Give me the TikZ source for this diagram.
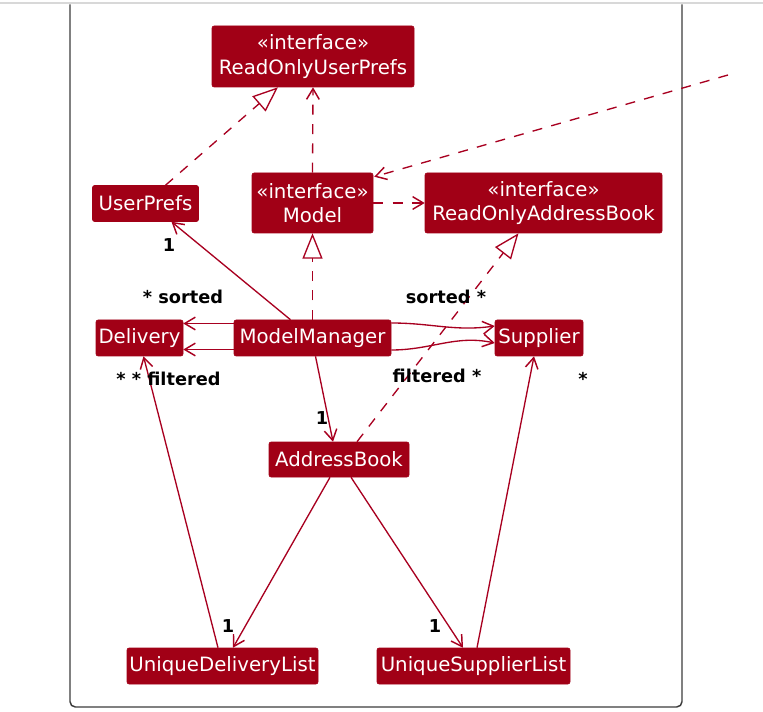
\documentclass[tikz,border=0pt]{standalone}
\usepackage{fontspec}
\setmainfont{DejaVu Sans}
\usetikzlibrary{arrows.meta,calc}
\definecolor{umlred}{RGB}{161,0,22}
\definecolor{linered}{RGB}{168,0,32}
\definecolor{framegray}{RGB}{60,60,60}
\definecolor{topgray}{RGB}{216,216,216}
\tikzset{
  cls/.style={fill=umlred, draw=umlred, text=white, rounded corners=1.5pt, inner sep=0pt,
    align=center, font=\fontsize{14.8}{18.5}\selectfont},
  wh/.style 2 args={minimum width=#1*0.75pt, minimum height=#2*0.75pt},
  assoc/.style={draw=linered, line width=1pt, -{Straight Barb[length=8pt,width=9.5pt,line width=1.1pt]}},
  dep/.style={assoc, dash pattern=on 7.5pt off 7pt},
  real/.style={draw=linered, line width=1pt, dash pattern=on 7.5pt off 7pt,
    -{Triangle[open,length=19pt,width=15pt,fill=white]}},
  lab/.style={font=\bfseries\fontsize{13.3}{16}\selectfont, inner sep=0pt, text=black},
}
\begin{document}
\begin{tikzpicture}[x=0.75pt, y=-0.75pt]
\useasboundingbox (0,0) rectangle (763,712);
\draw[topgray, line width=2pt] (0,3) -- (763,3);
\draw[framegray, line width=1.1pt, rounded corners=4pt] (70,4.5) -- (70,707) -- (682,707) -- (682,4.5);

\node[cls, wh={202}{61}] (rup) at (313,56.5) {«interface»\\ReadOnlyUserPrefs};
\node[cls, wh={106}{36}] (up) at (145.5,203.5) {UserPrefs};
\node[cls, wh={121}{60}] (model) at (312.5,203) {«interface»\\Model};
\node[cls, wh={237}{60}] (roab) at (543.5,203) {«interface»\\ReadOnlyAddressBook};
\node[cls, wh={87}{36}] (del) at (139.5,338) {Delivery};
\node[cls, wh={157}{36}] (mm) at (312.5,338) {ModelManager};
\node[cls, wh={88}{36}] (sup) at (539,338) {Supplier};
\node[cls, wh={140}{35}] (ab) at (339,459.5) {AddressBook};
\node[cls, wh={191}{36}] (udl) at (222.5,666) {UniqueDeliveryList};
\node[cls, wh={193}{36}] (usl) at (473.5,666) {UniqueSupplierList};

\coordinate (ext) at (728,75);

\draw[real] ($(up.north)+(20,0)$) -- ($(rup.south)+(-35,0)$);
\draw[dep] (model.north) -- (rup.south);
\draw[dep] (model.east) -- (roab.west);
\draw[dep] (ext) -- ($(model.north east)+(1,4)$);
\draw[real] (mm.north) -- (model.south);
\draw[real] ($(ab.north)+(18,0)$) -- ($(roab.south)+(-25,0)$);

\draw[assoc] ($(mm.north)+(-22,0)$) -- ($(up.south)+(26,0)$);
\draw[assoc] ($(mm.west)+(0,-14.5)$) -- ($(del.east)+(0,-14.5)$);
\draw[assoc] ($(mm.west)+(0,11.5)$) -- ($(del.east)+(0,11.5)$);
\draw[assoc] ($(mm.east)+(0,-15)$) to[out=0, in=188] ($(sup.west)+(0,-12)$);
\draw[assoc] ($(mm.east)+(0,12)$) to[out=0, in=168] ($(sup.west)+(0,5)$);
\draw[assoc] ($(mm.south)+(3,0)$) -- ($(ab.north)+(-6,0)$);
\draw[assoc] ($(ab.south)+(-9,0)$) -- ($(udl.north)+(10.5,0)$);
\draw[assoc] ($(ab.south)+(12,0)$) -- ($(usl.north)+(-10.5,0)$);
\draw[assoc] ($(udl.north)+(-4.5,0)$) -- ($(del.south)+(4,0)$);
\draw[assoc] ($(usl.north)+(3.5,0)$) -- ($(sup.south)+(-5,0)$);

\node[lab] (l1) at (169,245) {1};
\node[lab] (l2) at (183,297) {* sorted};
\node[lab] (l3) at (168.5,379) {* * filtered};
\node[lab] (l4) at (446,297) {sorted *};
\node[lab] (l5) at (437,376) {filtered *};
\node[lab] (l6) at (583,379) {*};
\node[lab] (l7) at (322,418) {1};
\node[lab] (l8) at (228,626) {1};
\node[lab] (l9) at (435,626) {1};
\end{tikzpicture}
\end{document}
